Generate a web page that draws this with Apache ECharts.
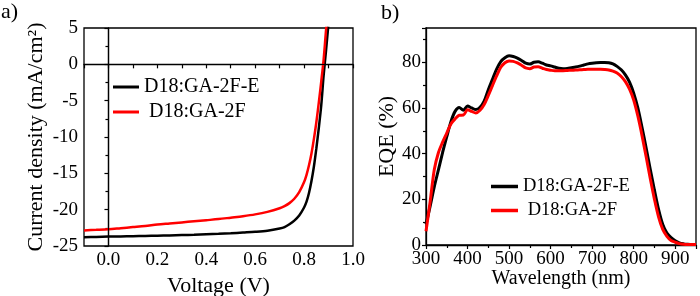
<!DOCTYPE html>
<html>
<head>
<meta charset="utf-8">
<script src="https://cdn.jsdelivr.net/npm/echarts@6/dist/echarts.min.js"></script>
<style>
  html, body { margin: 0; padding: 0; background: #fff; }
  #main { width: 700px; height: 296px; }
</style>
</head>
<body>
<div id="main"></div>
<script>
// J-V 数据
var voltage = [-0.1, -0.05, 0, 0.05, 0.1, 0.15, 0.2, 0.25, 0.3, 0.35, 0.4, 0.45, 0.5, 0.55, 0.6, 0.65, 0.7, 0.72, 0.74, 0.76, 0.78, 0.8, 0.81, 0.82, 0.83, 0.84, 0.85, 0.86, 0.87, 0.88, 0.89, 0.9];
var jvE = [-23.8, -23.75, -23.7, -23.68, -23.65, -23.62, -23.58, -23.55, -23.5, -23.45, -23.38, -23.32, -23.25, -23.15, -23.05, -22.9, -22.6, -22.4, -22.0, -21.5, -20.8, -19.7, -18.9, -17.7, -16.1, -14.1, -11.6, -8.8, -5.7, -1.5, 2.0, 5.7];
var jv = [-22.85, -22.78, -22.7, -22.55, -22.4, -22.25, -22.05, -21.9, -21.75, -21.6, -21.45, -21.3, -21.1, -20.9, -20.65, -20.3, -19.8, -19.5, -19.1, -18.5, -17.6, -16.2, -15.2, -13.9, -12.3, -10.3, -8.0, -5.3, -2.4, 0.7, 4.8, 8.5];

// EQE 数据
var wavelength = [300, 310, 320, 330, 340, 350, 360, 370, 380, 390, 400, 410, 420, 430, 440, 450, 460, 470, 480, 490, 500, 510, 520, 530, 540, 550, 560, 570, 580, 590, 600, 610, 620, 630, 640, 650, 660, 670, 680, 690, 700, 710, 720, 730, 740, 750, 760, 770, 780, 790, 800, 810, 820, 830, 840, 850, 860, 870, 880, 890, 900, 910, 920, 930, 940, 950];
var eqeE = [9, 17, 25.5, 33, 40.5, 47.4, 54, 58.5, 60.2, 59, 60.8, 60, 59.3, 60.3, 63, 68, 72.5, 77, 80.3, 82, 82.8, 82.5, 81.8, 80.8, 79.6, 79.2, 80, 80.2, 79.6, 78.8, 78.4, 77.9, 77.4, 77.2, 77.3, 77.6, 77.9, 78.3, 78.8, 79.3, 79.6, 79.8, 79.9, 79.9, 79.8, 79.3, 78.2, 76.7, 74.5, 71.3, 66.5, 60, 51.5, 42.5, 33, 24, 15.5, 9, 5.2, 3.2, 1.8, 0.9, 0.5, 0.3, 0.2, 0.2];
var eqe = [6, 19, 33, 40.5, 45, 49, 53, 55.2, 56.8, 56.9, 59.2, 58.5, 57.8, 59, 61.5, 65.5, 69.8, 74, 77.8, 79.8, 80.6, 80.4, 79.7, 78.7, 77.5, 77.2, 77.9, 78, 77.4, 76.8, 76.5, 76.3, 76.3, 76.3, 76.4, 76.5, 76.6, 76.7, 76.8, 76.9, 76.9, 76.9, 76.9, 76.8, 76.6, 76.1, 75.3, 73.8, 71.5, 68.2, 63.5, 56.5, 48, 38.6, 29, 20, 12.2, 6.8, 3.8, 2.0, 1.2, 0.6, 0.3, 0.2, 0.2, 0.2];

// 刻度标签
var wlLabels = [300, 400, 500, 600, 700, 800, 900];
var eqeLabels = [0, 20, 40, 60, 80];

var names = ['D18:GA-2F-E', 'D18:GA-2F'];
var colors = ['#000000', '#ff0000'];
var FONT = 'Liberation Serif';

function pairs(xs, ys) {
    var out = [];
    for (var i = 0; i < xs.length; i++) {
        out.push([xs[i], ys[i]]);
    }
    return out;
}

var myChart = echarts.init(document.getElementById('main'));

var axisLine = { show: true, lineStyle: { color: '#000', width: 1.3 } };
var tick = { show: true, inside: false, length: 4, lineStyle: { color: '#000', width: 1.2 } };
var minor = { show: true, splitNumber: 2, length: 3, lineStyle: { color: '#000', width: 1.2 } };

var panelLabels = [
    { type: 'text', left: 1, top: 1, style: { text: 'a)', font: '22px "Liberation Serif"', fill: '#000' } },
    { type: 'text', left: 381, top: 2, style: { text: 'b)', font: '22px "Liberation Serif"', fill: '#000' } }
];

option = {
    backgroundColor: '#fff',
    animation: false,
    color: colors,
    textStyle: { fontFamily: FONT, color: '#000' },
    graphic: panelLabels,
    grid: [
        { left: 84, right: 347, top: 28, bottom: 50, outerBoundsMode: 'none', show: true, borderColor: '#000', borderWidth: 1.3 },
        { left: 426, right: 4, top: 28, bottom: 51, outerBoundsMode: 'none', show: true, borderColor: '#000', borderWidth: 1.3 }
    ],
    legend: [
        {
            orient: 'vertical',
            left: 108,
            top: 72,
            itemWidth: 26,
            itemHeight: 3,
            itemGap: 5,
            icon: 'rect',
            data: names,
            selectedMode: false,
            formatter: function (n) { return n === 'D18:GA-2F' ? ' ' + n : n; },
            textStyle: { fontFamily: FONT, fontSize: 20, color: '#000', lineHeight: 20 }
        },
        {
            orient: 'vertical',
            left: 486,
            top: 172,
            itemWidth: 27,
            itemHeight: 3.5,
            itemGap: 5,
            icon: 'rect',
            data: names,
            selectedMode: false,
            formatter: function (n) { return n === 'D18:GA-2F' ? ' ' + n : n; },
            textStyle: { fontFamily: FONT, fontSize: 18.5, color: '#000', lineHeight: 19 }
        }
    ],
    xAxis: [
        {
            gridIndex: 0,
            type: 'value',
            min: -0.1,
            max: 1.0,
            interval: 0.1,
            name: 'Voltage (V)',
            nameLocation: 'middle',
            nameGap: 24,
            nameTextStyle: { fontFamily: FONT, fontSize: 22, color: '#000' },
            axisLine: axisLine,
            axisTick: tick,
            axisLabel: {
                fontFamily: FONT, fontSize: 19, color: '#000', margin: 5,
                showMaxLabel: true,
                formatter: function (v) {
                    var k = Math.round(v * 10);
                    return (k >= 0 && k % 2 === 0) ? (k / 10).toFixed(1) : '';
                }
            },
            splitLine: { show: false }
        },
        {
            gridIndex: 1,
            type: 'value',
            min: 300,
            max: 950,
            interval: 100,
            name: 'Wavelength (nm)',
            nameLocation: 'middle',
            nameGap: 24,
            nameTextStyle: { fontFamily: FONT, fontSize: 20, color: '#000' },
            axisLine: axisLine,
            axisTick: tick,
            minorTick: minor,
            // 标签在下面用 graphic 画（900 会被隐藏）
            axisLabel: { show: false },
            splitLine: { show: false }
        }
    ],
    yAxis: [
        {
            gridIndex: 0,
            type: 'value',
            min: -25,
            max: 5,
            interval: 5,
            name: 'Current density (mA/cm\u00b2)',
            nameLocation: 'middle',
            nameGap: 37,
            nameTextStyle: { fontFamily: FONT, fontSize: 22, color: '#000' },
            axisLine: axisLine,
            axisTick: tick,
            minorTick: minor,
            axisLabel: { fontFamily: FONT, fontSize: 19, color: '#000', margin: 6 },
            splitLine: { show: false }
        },
        {
            gridIndex: 1,
            type: 'value',
            min: 0,
            max: 95,
            interval: 20,
            name: 'EQE (%)',
            nameLocation: 'middle',
            nameGap: 28,
            nameTextStyle: { fontFamily: FONT, fontSize: 22, color: '#000' },
            axisLine: axisLine,
            axisTick: tick,
            minorTick: minor,
            axisLabel: {
                fontFamily: FONT, fontSize: 19, color: '#000', margin: 5,
                customValues: eqeLabels
            },
            splitLine: { show: false }
        }
    ],
    series: [
        {
            name: names[0],
            type: 'line',
            xAxisIndex: 0,
            yAxisIndex: 0,
            data: pairs(voltage, jvE),
            smooth: 0.3,
            showSymbol: false,
            lineStyle: { color: colors[0], width: 2.5 },
            z: 3,
            markLine: {
                silent: true,
                symbol: 'none',
                label: { show: false },
                lineStyle: { color: '#000', width: 1.2, type: 'solid' },
                data: [{ xAxis: 0 }, { yAxis: 0 }]
            }
        },
        {
            name: names[1],
            type: 'line',
            xAxisIndex: 0,
            yAxisIndex: 0,
            data: pairs(voltage, jv),
            smooth: 0.3,
            showSymbol: false,
            lineStyle: { color: colors[1], width: 2.5 },
            z: 4
        },
        {
            name: names[0],
            type: 'line',
            xAxisIndex: 1,
            yAxisIndex: 1,
            data: pairs(wavelength, eqeE),
            smooth: 0.3,
            showSymbol: false,
            lineStyle: { color: colors[0], width: 3 },
            z: 3
        },
        {
            name: names[1],
            type: 'line',
            xAxisIndex: 1,
            yAxisIndex: 1,
            data: pairs(wavelength, eqe),
            smooth: 0.3,
            showSymbol: false,
            lineStyle: { color: colors[1], width: 3 },
            z: 4
        }
    ]
};

if (option && typeof option === "object") {
    myChart.setOption(option, true);
}

// 波长刻度标签，位置由坐标轴换算
var baseY = myChart.convertToPixel({ yAxisIndex: 1 }, 0);
var wlTexts = [];
for (var i = 0; i < wlLabels.length; i++) {
    wlTexts.push({
        type: 'text',
        silent: true,
        z: 100,
        x: myChart.convertToPixel({ xAxisIndex: 1 }, wlLabels[i]),
        y: baseY + 5,
        style: {
            text: String(wlLabels[i]),
            font: '19px "Liberation Serif"',
            fill: '#000',
            align: 'center',
            verticalAlign: 'top',
            textAlign: 'center',
            textVerticalAlign: 'top'
        }
    });
}
myChart.setOption({ graphic: panelLabels.concat(wlTexts) });
</script>
</body>
</html>
